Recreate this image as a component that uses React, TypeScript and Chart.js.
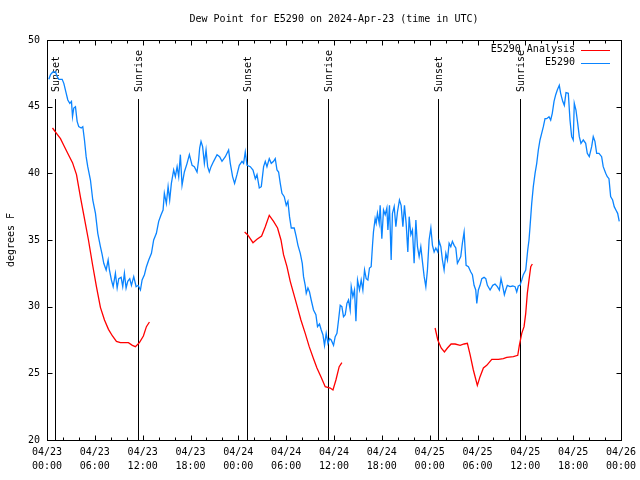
import React, { useEffect, useRef } from "react";
import { Chart, registerables } from "chart.js";

Chart.register(...registerables);

// ---- Data (hours since 2024-04-23 00:00 UTC, degrees F) ----
const stationHours = [
  0.23, 0.44, 0.73, 1.07, 1.28, 1.48, 1.9, 2.11, 2.41, 2.61,
  2.86, 3.07, 3.2, 3.36, 3.57, 3.78, 3.98, 4.29, 4.49, 4.7,
  4.91, 5.11, 5.45, 5.74, 6.08, 6.37, 6.7, 6.92, 7.12, 7.42,
  7.67, 7.83, 8.08, 8.3, 8.58, 8.8, 9.0, 9.3, 9.5, 9.71,
  9.92, 10.13, 10.38, 10.59, 10.88, 11.18, 11.43, 11.72, 11.93, 12.22,
  12.47, 12.76, 13.1, 13.38, 13.72, 14.01, 14.31, 14.56, 14.72, 14.97,
  15.19, 15.39, 15.6, 15.89, 16.1, 16.32, 16.52, 16.73, 16.94, 17.23,
  17.57, 17.86, 18.2, 18.48, 18.82, 19.02, 19.15,
  19.32, 19.52, 19.74, 19.95, 20.15, 20.36, 20.58, 20.9, 21.33, 21.65,
  21.95, 22.37, 22.78, 22.99, 23.28, 23.53, 23.83, 24.12, 24.46, 24.66,
  24.87, 25.09, 25.5, 25.84, 26.13, 26.34, 26.63, 26.88, 27.17, 27.38,
  27.59, 27.88, 28.13, 28.42, 28.63, 28.85, 29.05, 29.26, 29.47, 29.76,
  30.01, 30.22, 30.42, 30.64, 31.01, 31.26, 31.48, 31.77, 32.02, 32.18,
  32.39, 32.52, 32.73, 32.93, 33.14, 33.43, 33.73, 33.93, 34.18, 34.4,
  34.61, 34.81, 35.02, 35.24, 35.44, 35.65, 35.94, 36.15, 36.37, 36.57,
  36.78, 36.99, 37.19, 37.41, 37.62, 37.82, 38.03,
  38.16, 38.37, 38.57, 38.75, 38.95, 39.2, 39.41, 39.62, 39.83, 40.04,
  40.25, 40.45, 40.66, 40.83, 40.95, 41.16, 41.29, 41.45, 41.67, 41.79,
  42.0, 42.21, 42.42, 42.63, 42.76, 42.96, 43.17, 43.33, 43.55, 43.76,
  43.96, 44.21, 44.42, 44.64, 44.84, 45.05, 45.26, 45.43, 45.64, 45.84,
  46.05, 46.27, 46.47, 46.68, 46.89, 47.09, 47.31, 47.52, 47.72, 47.93,
  48.15, 48.35, 48.56, 48.77, 49.02, 49.19, 49.4, 49.6, 49.81, 50.03,
  50.23, 50.44, 50.65, 50.85, 51.07, 51.28, 51.48, 51.69, 51.9, 52.1,
  52.32, 52.44, 52.57, 52.86, 53.16, 53.36, 53.57, 53.78, 53.91, 54.11,
  54.32, 54.54, 54.82, 55.04, 55.24, 55.58, 55.91, 56.2, 56.49, 56.74,
  56.95, 57.17, 57.37, 57.54, 57.74, 58.08, 58.42, 58.71, 58.92, 59.12,
  59.33, 59.55, 59.75, 60.05,
  60.3, 60.46, 60.59, 60.8, 61.0, 61.22, 61.43, 61.63, 61.84, 62.05,
  62.26, 62.47, 62.68, 62.97, 63.18, 63.38, 63.6, 63.81, 64.01, 64.26,
  64.43, 64.69, 64.89, 65.1, 65.39, 65.6, 65.81, 66.01, 66.14, 66.35,
  66.57, 66.77, 66.98, 67.27, 67.57, 67.77, 68.02, 68.32, 68.52, 68.73,
  68.95, 69.24, 69.57, 69.77, 70.08, 70.28, 70.49, 70.7, 70.95, 71.15,
  71.36, 71.58, 71.78,
];

const stationValues = [
  47.05, 47.4, 47.6, 47.6, 47.25, 47.05, 47.05, 46.75, 46.0, 45.5,
  45.25, 45.4, 44.25, 44.9, 45.0, 43.9, 43.5, 43.4, 43.5, 42.5,
  41.25, 40.5, 39.5, 38.0, 37.0, 35.5, 34.5, 33.9, 33.25, 32.75,
  33.5, 32.75, 32.0, 31.5, 32.5, 31.4, 32.1, 32.2, 31.5, 32.5,
  31.4, 31.9, 32.1, 31.6, 32.25, 31.5, 31.6, 31.25, 32.0, 32.4,
  33.0, 33.5, 34.0, 35.0, 35.5, 36.4, 36.9, 37.25, 38.5, 37.75,
  39.0, 38.0, 39.25, 40.25, 39.75, 40.5, 39.75, 41.4, 39.1, 40.1,
  40.75, 41.4, 40.6, 40.5, 40.1, 41.0, 41.9,
  42.4, 42.0, 40.75, 41.75, 40.5, 40.1, 40.5, 40.9, 41.4, 41.25,
  40.9, 41.25, 41.75, 40.75, 39.75, 39.25, 39.9, 40.6, 40.9, 40.75,
  41.6, 40.6, 40.5, 40.25, 39.6, 39.9, 38.9, 39.0, 40.5, 40.9,
  40.5, 41.1, 40.75, 40.9, 41.1, 40.25, 40.1, 39.25, 38.5, 38.25,
  37.6, 37.9, 36.75, 35.9, 35.9, 35.25, 34.6, 34.0, 33.25, 32.25,
  31.6, 31.0, 31.4, 31.1, 30.5, 29.75, 29.4, 28.5, 28.7, 28.25,
  27.9, 27.1, 28.0, 27.25, 27.6, 27.5, 27.1, 27.75, 28.0, 29.0,
  30.1, 30.0, 29.25, 29.4, 30.25, 30.5, 29.75,
  31.5, 30.75, 31.25, 28.9, 32.0, 31.25, 32.0, 31.25, 32.75, 32.1,
  32.0, 32.9, 33.0, 34.6, 35.6, 36.6, 36.25, 37.0, 36.25, 37.6,
  35.1, 37.25, 36.9, 37.4, 35.75, 37.6, 33.5, 37.0, 37.5, 36.0,
  37.1, 38.0, 37.6, 36.0, 37.6, 36.25, 34.1, 36.75, 35.4, 35.75,
  33.25, 36.5, 34.5, 33.75, 34.5, 33.4, 32.25, 31.5, 32.75, 35.0,
  35.9, 34.6, 34.1, 34.4, 34.1, 34.9, 34.5, 33.5, 32.75, 34.0,
  33.5, 34.75, 34.5, 34.9, 34.6, 34.4, 33.25, 33.5, 33.75, 34.75,
  35.6, 34.4, 33.1, 33.0, 32.6, 32.4, 31.6, 31.25, 30.25, 31.25,
  31.6, 32.1, 32.2, 32.1, 31.6, 31.25, 31.6, 31.7, 31.5, 31.25,
  32.1, 31.5, 30.9, 31.25, 31.6, 31.5, 31.55, 31.5, 31.1, 31.55,
  31.6, 32.0, 32.4, 32.75,
  34.25, 35.0, 36.0, 37.75, 39.0, 40.0, 40.75, 41.75, 42.5, 43.0,
  43.5, 44.1, 44.1, 44.25, 44.0, 44.5, 45.4, 45.9, 46.25, 46.6,
  46.0, 45.4, 45.1, 46.05, 46.0, 44.0, 42.75, 42.5, 45.25, 44.75,
  43.75, 42.75, 42.25, 42.5, 42.25, 41.5, 41.25, 42.0, 42.75, 42.4,
  41.5, 41.5, 41.25, 40.5, 40.0, 39.75, 39.6, 38.25, 38.0, 37.5,
  37.25, 37.0, 36.4,
];

const analysisHours1 = [
  0.69, 1.19, 1.69, 2.19, 2.69, 3.2, 3.7, 4.2, 4.7, 5.2,
  5.7, 6.2, 6.7, 7.21, 7.71, 8.21, 8.71, 9.21, 9.71, 10.21,
  10.71, 11.09, 11.59, 12.09, 12.47, 12.85,
];
const analysisValues1 = [
  43.4, 43.0, 42.6, 42.0, 41.4, 40.8, 39.9, 38.2, 36.6, 35.0,
  33.2, 31.5, 29.95, 29.0, 28.3, 27.8, 27.4, 27.3, 27.3, 27.3,
  27.1, 27.0, 27.3, 27.8, 28.5, 28.85,
];
const analysisHours2 = [
  24.79, 25.16, 25.84, 26.34, 26.92, 27.38, 27.88, 28.42, 28.92, 29.35,
  29.67, 30.1, 30.51, 30.93, 31.35, 31.85, 32.39, 32.89, 33.43, 33.86,
  34.36, 34.9, 35.53, 35.87, 36.24, 36.65, 36.99,
];
const analysisValues2 = [
  35.6, 35.4, 34.8, 35.05, 35.3, 36.0, 36.85, 36.4, 35.9, 35.0,
  33.9, 33.0, 31.9, 31.0, 30.1, 29.0, 28.0, 27.0, 26.1, 25.4,
  24.75, 24.0, 23.9, 23.75, 24.5, 25.5, 25.8,
];
const analysisHours3 = [
  48.68, 49.02, 49.44, 49.85, 50.23, 50.69, 51.19, 51.82, 52.32, 52.73,
  53.07, 53.48, 53.98, 54.32, 54.74, 55.16, 55.79, 56.62, 57.24, 57.67,
  58.5, 59.05, 59.25, 59.55, 59.84, 60.05, 60.25, 60.46, 60.68, 60.88,
];
const analysisValues3 = [
  28.4, 27.5, 26.9, 26.6, 26.9, 27.2, 27.2, 27.1, 27.2, 27.25,
  26.4, 25.25, 24.1, 24.75, 25.4, 25.6, 26.05, 26.05, 26.1, 26.2,
  26.25, 26.35, 27.1, 28.0, 28.5, 29.5, 31.0, 32.0, 33.0, 33.2,
];

const sunEventHours = [0.98, 11.38, 25.04, 35.31, 49.09, 59.37];
const sunEventLabels = ["Sunset", "Sunrise", "Sunset", "Sunrise", "Sunset", "Sunrise"];

const xTickHours = [0, 6, 12, 18, 24, 30, 36, 42, 48, 54, 60, 66, 72];
const xTickDates = ["04/23", "04/23", "04/23", "04/23", "04/24", "04/24", "04/24", "04/24", "04/25", "04/25", "04/25", "04/25", "04/26"];
const xTickTimes = ["00:00", "06:00", "12:00", "18:00", "00:00", "06:00", "12:00", "18:00", "00:00", "06:00", "12:00", "18:00", "00:00"];
const yTickValues = [20, 25, 30, 35, 40, 45, 50];

const TITLE = "Dew Point for E5290 on 2024-Apr-23 (time in UTC)";
const Y_TITLE = "degrees F";
const SERIES_NAMES = ["E5290 Analysis", "E5290"];
const COLORS = ["#ff0000", "#0a84ff"];

const FONT = '10px "DejaVu Sans Mono", monospace';

function toPoints(hours: number[], values: number[]) {
  return hours.map((h, i) => ({ x: h, y: values[i] }));
}

const decorPlugin = {
  id: "decor",
  beforeDatasetsDraw(chart: any) {
    const { ctx, chartArea, scales } = chart;
    const { top, bottom } = chartArea;
    const x = scales.x;
    ctx.save();
    ctx.strokeStyle = "#000";
    ctx.fillStyle = "#000";
    ctx.lineWidth = 1;
    ctx.font = FONT;
    sunEventHours.forEach((h, i) => {
      const px = Math.round(x.getPixelForValue(h)) + 0.5;
      ctx.beginPath();
      ctx.moveTo(px, top + 59);
      ctx.lineTo(px, bottom);
      ctx.stroke();
      ctx.save();
      ctx.translate(px + 1, top + 52);
      ctx.rotate(-Math.PI / 2);
      ctx.textAlign = "left";
      ctx.textBaseline = "middle";
      ctx.fillText(sunEventLabels[i], 0, 0);
      ctx.restore();
    });
    ctx.restore();
  },
  afterDraw(chart: any) {
    const { ctx, chartArea, scales } = chart;
    const { left, right, top, bottom } = chartArea;
    const x = scales.x;
    const y = scales.y;
    ctx.save();
    ctx.strokeStyle = "#000";
    ctx.fillStyle = "#000";
    ctx.lineWidth = 1;
    ctx.font = FONT;

    const L = Math.round(left) + 0.5;
    const R = Math.round(right) + 0.5;
    const T = Math.round(top) + 0.5;
    const B = Math.round(bottom) + 0.5;
    ctx.strokeRect(L, T, R - L, B - T);

    // x ticks: minor every 2 h, major every 6 h, mirrored on top
    ctx.beginPath();
    for (let h = 0; h <= 72; h += 2) {
      const px = Math.round(x.getPixelForValue(h)) + 0.5;
      const len = h % 6 === 0 ? 5 : 3;
      ctx.moveTo(px, B);
      ctx.lineTo(px, B - len);
      ctx.moveTo(px, T);
      ctx.lineTo(px, T + len);
    }
    yTickValues.forEach((v) => {
      const py = Math.round(y.getPixelForValue(v)) + 0.5;
      ctx.moveTo(L, py);
      ctx.lineTo(L + 5, py);
      ctx.moveTo(R, py);
      ctx.lineTo(R - 5, py);
    });
    ctx.stroke();

    // y tick labels
    ctx.textAlign = "right";
    ctx.textBaseline = "middle";
    yTickValues.forEach((v) => {
      ctx.fillText(String(v), left - 7, y.getPixelForValue(v));
    });

    // x tick labels
    ctx.textAlign = "center";
    xTickHours.forEach((h, i) => {
      const px = x.getPixelForValue(h);
      ctx.fillText(xTickDates[i], px, bottom + 12);
      ctx.fillText(xTickTimes[i], px, bottom + 26);
    });

    // title
    ctx.fillText(TITLE, (left + right) / 2, top - 21);

    // y axis title
    ctx.save();
    ctx.translate(11, (top + bottom) / 2);
    ctx.rotate(-Math.PI / 2);
    ctx.fillText(Y_TITLE, 0, 0);
    ctx.restore();

    // legend
    ctx.textAlign = "right";
    SERIES_NAMES.forEach((name, i) => {
      const ly = top + 9.5 + i * 13;
      ctx.fillStyle = "#000";
      ctx.fillText(name, right - 46, ly);
      ctx.strokeStyle = COLORS[i];
      ctx.beginPath();
      ctx.moveTo(right - 40, Math.round(ly) + 0.5);
      ctx.lineTo(right - 11, Math.round(ly) + 0.5);
      ctx.stroke();
    });

    ctx.restore();
  },
};

export default function App() {
  const canvasRef = useRef<HTMLCanvasElement | null>(null);

  useEffect(() => {
    if (!canvasRef.current) return;
    const analysisData = [
      ...toPoints(analysisHours1, analysisValues1),
      { x: 18, y: null },
      ...toPoints(analysisHours2, analysisValues2),
      { x: 42, y: null },
      ...toPoints(analysisHours3, analysisValues3),
    ];
    const chart = new Chart(canvasRef.current, {
      type: "line",
      data: {
        datasets: [
          {
            label: SERIES_NAMES[0],
            data: analysisData as any,
            borderColor: COLORS[0],
            borderWidth: 1.3,
            pointRadius: 0,
            spanGaps: false,
            tension: 0,
          },
          {
            label: SERIES_NAMES[1],
            data: toPoints(stationHours, stationValues) as any,
            borderColor: COLORS[1],
            borderWidth: 1.3,
            pointRadius: 0,
            tension: 0,
          },
        ],
      },
      options: {
        responsive: false,
        animation: false,
        devicePixelRatio: 1,
        layout: { padding: { left: 47, right: 19, top: 40, bottom: 40 } },
        plugins: {
          legend: { display: false },
          title: { display: false },
          tooltip: { enabled: false },
        },
        scales: {
          x: { type: "linear", min: 0, max: 72, display: false },
          y: { type: "linear", min: 20, max: 50, display: false },
        },
      },
      plugins: [decorPlugin],
    });
    return () => chart.destroy();
  }, []);

  return (
    <div style={{ position: "fixed", left: 0, top: 0, width: 640, height: 480, background: "#fff" }}>
      <canvas ref={canvasRef} width={640} height={480} style={{ width: 640, height: 480, display: "block" }} />
    </div>
  );
}
